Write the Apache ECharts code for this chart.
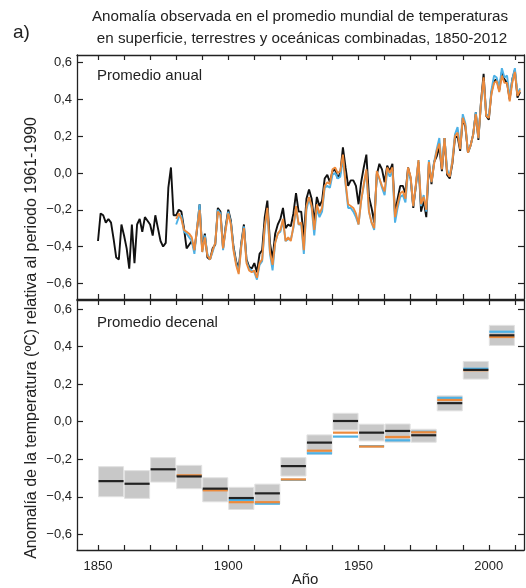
<!DOCTYPE html>
<html>
<head>
<meta charset="utf-8">
<script src="https://cdn.jsdelivr.net/npm/echarts@6/dist/echarts.min.js"></script>
<style>
html,body{margin:0;padding:0;background:#fff;}
#chart{width:526px;height:588px;}
</style>
</head>
<body>
<div id="chart"></div>
<script>
// ---- data ----
const hadcrutStart = 1850;
const hadcrutAnnual = [
-0.37,-0.22,-0.23,-0.27,-0.25,-0.27,-0.36,-0.46,-0.47,-0.28,
-0.34,-0.41,-0.52,-0.28,-0.49,-0.28,-0.25,-0.32,-0.24,-0.26,
-0.28,-0.34,-0.23,-0.30,-0.37,-0.40,-0.38,-0.08,0.03,-0.23,
-0.23,-0.20,-0.21,-0.30,-0.41,-0.39,-0.37,-0.42,-0.31,-0.17,
-0.42,-0.33,-0.46,-0.47,-0.41,-0.39,-0.19,-0.21,-0.41,-0.29,
-0.20,-0.26,-0.40,-0.48,-0.52,-0.38,-0.28,-0.47,-0.51,-0.52,
-0.49,-0.54,-0.44,-0.42,-0.24,-0.15,-0.38,-0.47,-0.33,-0.28,
-0.25,-0.19,-0.30,-0.28,-0.29,-0.22,-0.11,-0.21,-0.21,-0.35,
-0.14,-0.09,-0.14,-0.27,-0.13,-0.18,-0.15,-0.03,-0.01,-0.05,
0.01,0.02,-0.03,0.00,0.14,0.03,-0.07,-0.04,-0.04,-0.07,
-0.17,-0.05,0.03,0.10,-0.13,-0.19,-0.27,-0.01,0.05,0.02,
-0.05,0.04,0.01,0.05,-0.22,-0.14,-0.07,-0.07,-0.11,0.03,
-0.03,-0.19,-0.07,0.06,-0.21,-0.15,-0.24,0.05,-0.06,0.06,
0.09,0.14,0.01,0.19,-0.01,-0.03,0.05,0.19,0.20,0.12,
0.30,0.25,0.11,0.15,0.21,0.33,0.18,0.39,0.54,0.31,
0.29,0.44,0.50,0.51,0.45,0.55,0.51,0.49,0.40,0.51,
0.56,0.41,0.44
];
const otherStart = 1880;
const mlostAnnual = [
-0.25,-0.22,-0.25,-0.31,-0.32,-0.33,-0.35,-0.42,-0.30,-0.20,
-0.43,-0.35,-0.45,-0.47,-0.42,-0.38,-0.21,-0.23,-0.41,-0.31,
-0.22,-0.28,-0.42,-0.50,-0.55,-0.40,-0.30,-0.49,-0.53,-0.54,
-0.53,-0.57,-0.49,-0.47,-0.29,-0.19,-0.43,-0.50,-0.38,-0.33,
-0.31,-0.25,-0.37,-0.35,-0.37,-0.29,-0.18,-0.28,-0.27,-0.42,
-0.18,-0.13,-0.18,-0.31,-0.17,-0.22,-0.19,-0.07,-0.05,-0.06,
0.02,0.03,0.00,0.01,0.10,-0.05,-0.17,-0.18,-0.19,-0.22,
-0.28,-0.15,-0.06,0.02,-0.21,-0.27,-0.30,0.01,-0.03,-0.07,
-0.10,0.03,0.00,0.03,-0.24,-0.17,-0.11,-0.10,-0.14,0.03,
-0.02,-0.18,-0.06,0.07,-0.17,-0.13,-0.20,0.06,-0.05,0.05,
0.12,0.16,0.02,0.19,0.00,-0.02,0.06,0.20,0.22,0.13,
0.30,0.26,0.11,0.15,0.21,0.32,0.19,0.38,0.52,0.31,
0.30,0.43,0.49,0.50,0.44,0.53,0.49,0.49,0.39,0.49,
0.55,0.42,0.45
];
const gissAnnual = [
-0.28,-0.24,-0.23,-0.32,-0.33,-0.35,-0.37,-0.44,-0.30,-0.17,
-0.43,-0.34,-0.44,-0.47,-0.43,-0.38,-0.20,-0.22,-0.42,-0.30,
-0.21,-0.27,-0.41,-0.49,-0.54,-0.39,-0.29,-0.48,-0.52,-0.53,
-0.54,-0.58,-0.50,-0.48,-0.30,-0.20,-0.44,-0.53,-0.38,-0.33,
-0.32,-0.26,-0.37,-0.36,-0.36,-0.30,-0.19,-0.28,-0.28,-0.44,
-0.20,-0.14,-0.19,-0.34,-0.19,-0.24,-0.21,-0.08,-0.07,-0.08,
-0.01,0.00,-0.03,-0.02,0.08,-0.06,-0.19,-0.19,-0.21,-0.24,
-0.28,-0.15,-0.07,0.01,-0.21,-0.27,-0.31,0.00,-0.03,-0.08,
-0.12,0.01,-0.02,0.01,-0.27,-0.19,-0.13,-0.12,-0.16,0.01,
-0.03,-0.18,-0.07,0.07,-0.18,-0.12,-0.21,0.07,-0.05,0.06,
0.13,0.19,0.03,0.19,0.02,-0.02,0.07,0.21,0.25,0.14,
0.32,0.27,0.11,0.15,0.21,0.33,0.19,0.38,0.50,0.32,
0.31,0.45,0.53,0.52,0.46,0.57,0.52,0.53,0.41,0.51,
0.57,0.43,0.46
];
const decadeStarts = [1850,1860,1870,1880,1890,1900,1910,1920,1930,1940,1950,1960,1970,1980,1990,2000];
const hadcrutDecadal = [-0.316,-0.330,-0.253,-0.291,-0.356,-0.406,-0.381,-0.236,-0.111,0.004,-0.058,-0.049,-0.072,0.099,0.276,0.460];
const decadalLow  = [-0.399,-0.408,-0.321,-0.356,-0.426,-0.467,-0.438,-0.289,-0.173,-0.044,-0.102,-0.109,-0.109,0.058,0.227,0.406];
const decadalHigh = [-0.239,-0.260,-0.191,-0.232,-0.298,-0.349,-0.332,-0.191,-0.070,0.045,-0.013,-0.012,-0.040,0.138,0.321,0.513];
const otherDecadeStarts = [1880,1890,1900,1910,1920,1930,1940,1950,1960,1970,1980,1990,2000];
const mlostDecadal = [-0.285,-0.365,-0.428,-0.428,-0.307,-0.154,-0.058,-0.132,-0.081,-0.056,0.116,0.274,0.451];
const gissDecadal  = [-0.288,-0.362,-0.417,-0.436,-0.309,-0.168,-0.079,-0.130,-0.099,-0.054,0.127,0.282,0.479];
const yTicks = [-0.6,-0.4,-0.2,0.0,0.2,0.4,0.6];
const xTicks = [1850,1860,1870,1880,1890,1900,1910,1920,1930,1940,1950,1960,1970,1980,1990,2000,2010];
const xLabels = [1850,1900,1950,2000];
const titleLines = ['Anomalía observada en el promedio mundial de temperaturas','en superficie, terrestres y oceánicas combinadas, 1850-2012'];

// ---- build ----
const FONT = '"Liberation Sans", Arial, Helvetica, sans-serif';
const BLACK = '#111', ORANGE = '#EC8A3C', BLUE = '#4DB1E6', GREY = '#C8C8C8';
const toPairs = (start, arr) => arr.map((v, i) => [start + i, v]);
const fmtY = v => { const s = Math.abs(v).toFixed(1).replace('.', ','); return (v < -1e-9 ? '\u2212' : '') + s; };

const XMIN = 1841.94, XMAX = 2013.5;
const axisLine = { show: true, onZero: false, lineStyle: { color: '#222', width: 1.3 } };

function xAx(grid, pos, labels) {
  return {
    type: 'value', gridIndex: grid, position: pos, min: XMIN, max: XMAX,
    axisLine: axisLine, splitLine: { show: false },
    axisTick: { show: true, inside: true, length: 5, customValues: xTicks, lineStyle: { color: '#222', width: 1.2 } },
    axisLabel: labels ? { show: true, customValues: xLabels, margin: 10, fontFamily: FONT, fontSize: 13, color: '#222', formatter: v => String(Math.round(v)) } : { show: false }
  };
}
function yAx(grid, pos, min, max, labels) {
  return {
    type: 'value', gridIndex: grid, position: pos, min: min, max: max,
    axisLine: axisLine, splitLine: { show: false },
    axisTick: { show: true, inside: true, length: 6, customValues: yTicks, lineStyle: { color: '#222', width: 1.2 } },
    axisLabel: labels ? { show: true, customValues: yTicks, margin: 5, fontFamily: FONT, fontSize: 13, color: '#222', formatter: fmtY } : { show: false }
  };
}

function decadeLine(starts, vals, color, width) {
  return {
    type: 'custom', xAxisIndex: 2, yAxisIndex: 2, z: 5,
    data: starts.map((d, i) => [d, vals[i]]),
    renderItem: (params, api) => {
      const d = api.value(0), v = api.value(1);
      const p1 = api.coord([d, v]), p2 = api.coord([d + 10, v]);
      return { type: 'line', shape: { x1: p1[0] + 0.5, y1: p1[1], x2: p2[0] - 0.5, y2: p2[1] }, style: { stroke: color, lineWidth: width } };
    }
  };
}

const option = {
  animation: false,
  backgroundColor: '#fff',
  grid: [
    { left: 77, top: 55, width: 447, height: 244 },
    { left: 77, top: 300, width: 447, height: 250 }
  ],
  xAxis: [xAx(0, 'bottom', false), xAx(0, 'top', false), xAx(1, 'bottom', true), xAx(1, 'top', false)],
  yAxis: [
    yAx(0, 'left', -0.6854, 0.6419, true), yAx(0, 'right', -0.6854, 0.6419, false),
    yAx(1, 'left', -0.6825, 0.6479, true), yAx(1, 'right', -0.6825, 0.6479, false)
  ],
  series: [
    { type: 'line', xAxisIndex: 0, yAxisIndex: 0, data: toPairs(hadcrutStart, hadcrutAnnual), showSymbol: false, lineStyle: { color: BLACK, width: 1.9 }, z: 3 },
    { type: 'line', xAxisIndex: 0, yAxisIndex: 0, data: toPairs(otherStart, gissAnnual), showSymbol: false, lineStyle: { color: BLUE, width: 1.9 }, z: 4 },
    { type: 'line', xAxisIndex: 0, yAxisIndex: 0, data: toPairs(otherStart, mlostAnnual), showSymbol: false, lineStyle: { color: ORANGE, width: 1.9 }, z: 5 },
    {
      type: 'custom', xAxisIndex: 2, yAxisIndex: 2, z: 2,
      data: decadeStarts.map((d, i) => [d, decadalLow[i], decadalHigh[i]]),
      renderItem: (params, api) => {
        const d = api.value(0);
        const p1 = api.coord([d, api.value(2)]), p2 = api.coord([d + 10, api.value(1)]);
        return { type: 'rect', shape: { x: p1[0] + 0.5, y: p1[1], width: p2[0] - p1[0] - 1, height: p2[1] - p1[1] }, style: { fill: GREY, stroke: '#E2E2E2', lineWidth: 1 } };
      }
    },
    decadeLine(otherDecadeStarts, gissDecadal, BLUE, 2.2),
    decadeLine(otherDecadeStarts, mlostDecadal, ORANGE, 2.2),
    decadeLine(decadeStarts, hadcrutDecadal, '#222', 2.2)
  ],
  graphic: [
    { type: 'text', x: 300, y: 17, style: { text: titleLines[0], font: '15.2px ' + FONT, fill: '#222', textAlign: 'center', textVerticalAlign: 'middle' } },
    { type: 'text', x: 302, y: 39, style: { text: titleLines[1], font: '15.2px ' + FONT, fill: '#222', textAlign: 'center', textVerticalAlign: 'middle' } },
    { type: 'text', x: 13, y: 33, style: { text: 'a)', font: '19px ' + FONT, fill: '#222', textAlign: 'left', textVerticalAlign: 'middle' } },
    { type: 'text', x: 97, y: 76, z: 10, style: { text: 'Promedio anual', font: '15px ' + FONT, fill: '#222', textAlign: 'left', textVerticalAlign: 'middle' } },
    { type: 'text', x: 97, y: 323, z: 10, style: { text: 'Promedio decenal', font: '15px ' + FONT, fill: '#222', textAlign: 'left', textVerticalAlign: 'middle' } },
    { type: 'text', x: 305, y: 580, style: { text: 'Año', font: '15px ' + FONT, fill: '#222', textAlign: 'center', textVerticalAlign: 'middle' } },
    { type: 'text', x: 32, y: 338, rotation: Math.PI / 2, style: { text: 'Anomalía de la temperatura (ºC) relativa al periodo 1961-1990', font: '16px ' + FONT, fill: '#222', textAlign: 'center', textVerticalAlign: 'middle' } }
  ]
};

const chart = echarts.init(document.getElementById('chart'), null, { renderer: 'canvas' });
chart.setOption(option);
</script>
</body>
</html>
